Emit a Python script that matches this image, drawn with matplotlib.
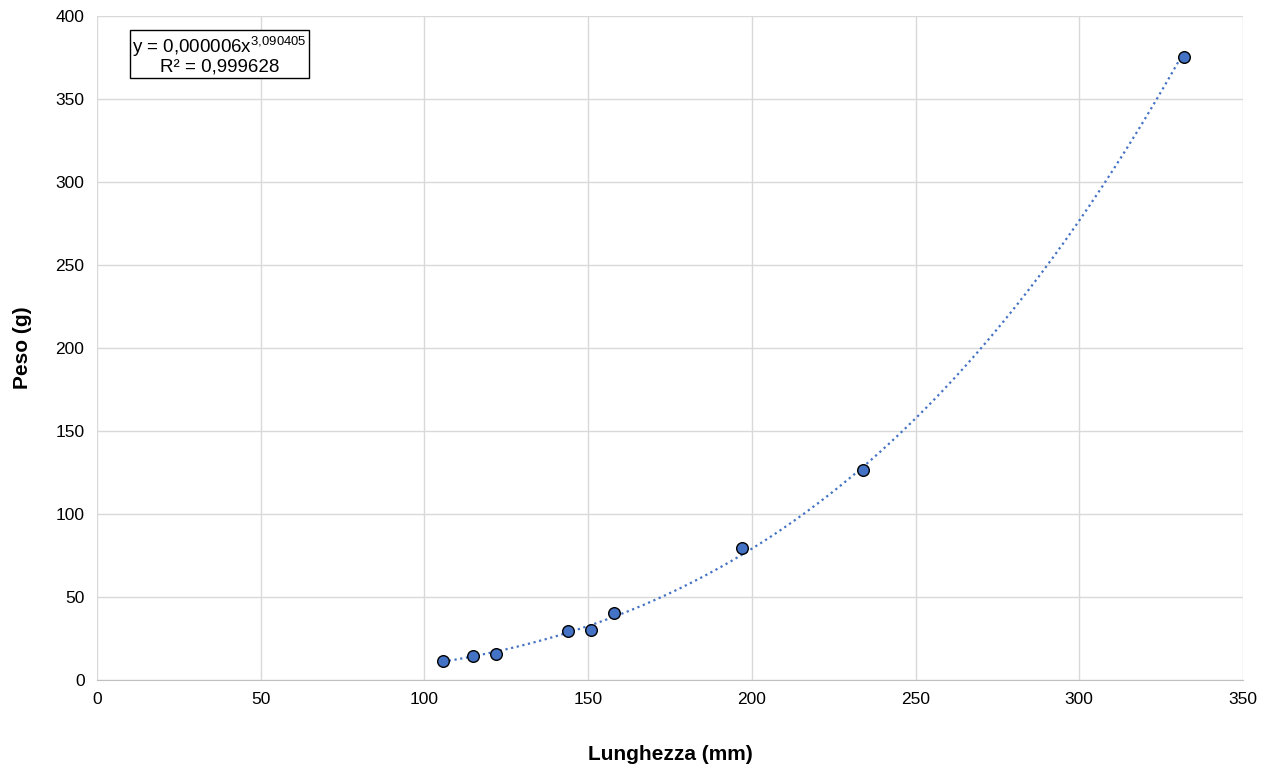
import numpy as np
import matplotlib
matplotlib.use("Agg")
import matplotlib.pyplot as plt

plt.rcParams['font.family'] = ['Liberation Sans', 'DejaVu Sans']
plt.rcParams['mathtext.default'] = 'regular'

lunghezza = [105.7, 114.9, 121.9, 143.9, 150.9, 157.9, 196.9, 233.8, 332.0]
peso = [11.4, 14.6, 15.9, 29.5, 29.9, 40.5, 79.5, 126.3, 375.1]
x_ticks = [0, 50, 100, 150, 200, 250, 300, 350]
y_ticks = [0, 50, 100, 150, 200, 250, 300, 350, 400]
eq_text = "y = 0,000006x$^{3{,}090405}$\nR² = 0,999628"

fig = plt.figure(figsize=(12.72, 7.71), dpi=100)
ax = fig.add_axes([97/1272, 1-680/771, (1243-97)/1272, (680-16)/771])

# power trendline (least squares in log space, like Excel)
lx, ly = np.log(lunghezza), np.log(peso)
b, a = np.polyfit(lx, ly, 1)
xs = np.linspace(min(lunghezza), max(lunghezza), 300)
ax.plot(xs, np.exp(a) * xs ** b, linestyle=(0, (1, 1.6)), color='#4472C4', lw=1.6, zorder=2)

ax.scatter(lunghezza, peso, s=70, color='#4472C4', edgecolors='black', linewidths=1.0, zorder=3)

ax.set_xlim(0, 350)
ax.set_ylim(0, 400)
ax.set_xticks(x_ticks)
ax.set_yticks(y_ticks)
ax.tick_params(length=0, labelsize=12.5, colors='#000000', pad=9)
ax.grid(True, color='#D9D9D9', lw=1)
ax.set_axisbelow(True)
for s in ['top', 'right', 'left']:
    ax.spines[s].set_visible(False)
ax.spines['bottom'].set_color('#BFBFBF')

ax.set_xlabel('Lunghezza (mm)', fontsize=15, fontweight='bold', labelpad=27)
ax.set_ylabel('Peso (g)', fontsize=15, fontweight='bold', labelpad=17)

ax.text(0.0305, 0.972, eq_text, transform=ax.transAxes, fontsize=13.5, ha='left', va='top',
        multialignment='center', linespacing=1.0,
        bbox=dict(boxstyle='square,pad=0.12', facecolor='white', edgecolor='black', lw=1))

fig.savefig('out.png', dpi=100)
